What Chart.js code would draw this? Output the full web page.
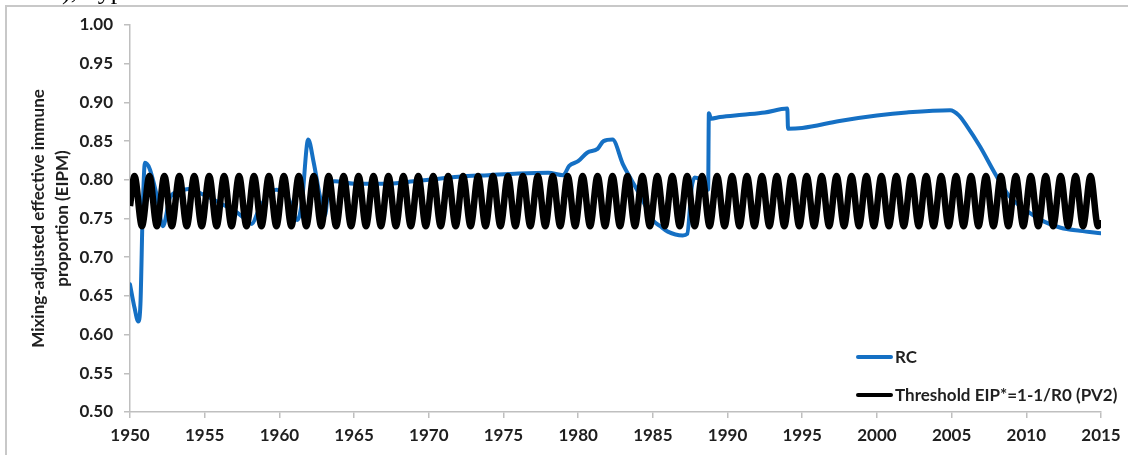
<!DOCTYPE html>
<html>
<head>
<meta charset="utf-8">
<script src="https://cdn.jsdelivr.net/npm/chart.js@4.4.1/dist/chart.umd.min.js"></script>
<style>
  html, body { margin: 0; padding: 0; background: #ffffff; }
  #wrap { width: 1128px; height: 455px; position: relative; }
</style>
</head>
<body>
<div id="wrap"><canvas id="c" width="1128" height="455"></canvas></div>
<script>
// ---- data ----
const xTickStep = 5;
const yTickStep = 0.05;
const xRange = [1950, 2015];
const yRange = [0.5, 1.0];
const seriesNames = ['RC', 'Threshold EIP*=1-1/R0 (PV2)'];
const yTitleLines = ['Mixing-adjusted effective immune', 'proportion (EIPM)'];
const clippedCaption = '), Typ';

const rcYears = [
  1950.0, 1950.3, 1950.55, 1950.7, 1950.85, 1951.0, 1951.3, 1951.8, 1952.2, 1952.7,
  1953.3, 1953.9, 1955.0, 1956.0, 1957.0, 1957.8, 1958.15, 1958.6, 1959.2, 1959.8,
  1960.6, 1961.2, 1961.5, 1961.93, 1962.3, 1962.7, 1963.05, 1963.3, 1963.7, 1965.0,
  1967.0, 1969.0, 1970.0, 1972.0, 1974.0, 1976.0, 1978.0, 1979.0, 1979.4, 1980.0,
  1980.6, 1981.3, 1981.7, 1982.3, 1983.0, 1983.5, 1984.2, 1985.0, 1985.5, 1986.0,
  1987.0, 1987.3, 1987.6, 1987.8, 1988.2, 1988.7, 1988.75, 1988.9, 1989.5, 1991.0,
  1992.5, 1994.0, 1994.05, 1995.0, 1997.5, 2000.0, 2002.0, 2004.9, 2005.5, 2006.0,
  2006.9, 2008.0, 2008.9, 2010.1, 2011.2, 2012.3, 2013.6, 2015.0
];
const rcValues = [
  0.665, 0.635, 0.617, 0.640, 0.760, 0.822, 0.815, 0.779, 0.740, 0.778,
  0.785, 0.788, 0.780, 0.770, 0.760, 0.748, 0.743, 0.760, 0.780, 0.787,
  0.776, 0.748, 0.770, 0.852, 0.822, 0.780, 0.754, 0.790, 0.798, 0.795,
  0.795, 0.798, 0.800, 0.804, 0.806, 0.808, 0.809, 0.806, 0.818, 0.824,
  0.835, 0.840, 0.850, 0.852, 0.820, 0.802, 0.778, 0.748, 0.740, 0.733,
  0.728, 0.730, 0.790, 0.803, 0.800, 0.787, 0.886, 0.879, 0.881, 0.884,
  0.887, 0.892, 0.866, 0.867, 0.876, 0.883, 0.887, 0.890, 0.883, 0.870,
  0.843, 0.805, 0.778, 0.759, 0.746, 0.738, 0.734, 0.731
];

const thresholdYears = [
  1950.0,
  1950.3,1950.8,1951.3,1951.8,1952.3,1952.8,1953.3,1953.8,1954.3,1954.8,
  1955.3,1955.8,1956.3,1956.8,1957.3,1957.8,1958.3,1958.8,1959.3,1959.8,
  1960.3,1960.8,1961.3,1961.8,1962.3,1962.8,1963.3,1963.8,1964.3,1964.8,
  1965.3,1965.8,1966.3,1966.8,1967.3,1967.8,1968.3,1968.8,1969.3,1969.8,
  1970.3,1970.8,1971.3,1971.8,1972.3,1972.8,1973.3,1973.8,1974.3,1974.8,
  1975.3,1975.8,1976.3,1976.8,1977.3,1977.8,1978.3,1978.8,1979.3,1979.8,
  1980.3,1980.8,1981.3,1981.8,1982.3,1982.8,1983.3,1983.8,1984.3,1984.8,
  1985.3,1985.8,1986.3,1986.8,1987.3,1987.8,1988.3,1988.8,1989.3,1989.8,
  1990.3,1990.8,1991.3,1991.8,1992.3,1992.8,1993.3,1993.8,1994.3,1994.8,
  1995.3,1995.8,1996.3,1996.8,1997.3,1997.8,1998.3,1998.8,1999.3,1999.8,
  2000.3,2000.8,2001.3,2001.8,2002.3,2002.8,2003.3,2003.8,2004.3,2004.8,
  2005.3,2005.8,2006.3,2006.8,2007.3,2007.8,2008.3,2008.8,2009.3,2009.8,
  2010.3,2010.8,2011.3,2011.8,2012.3,2012.8,2013.3,2013.8,2014.3,2014.8,
  2015.0
];
const thresholdValues = [
  0.766,
  0.805,0.740,0.805,0.740,0.805,0.740,0.805,0.740,0.805,0.740,
  0.805,0.740,0.805,0.740,0.805,0.740,0.805,0.740,0.805,0.740,
  0.805,0.740,0.805,0.740,0.805,0.740,0.805,0.740,0.805,0.740,
  0.805,0.740,0.805,0.740,0.805,0.740,0.805,0.740,0.805,0.740,
  0.805,0.740,0.805,0.740,0.805,0.740,0.805,0.740,0.805,0.740,
  0.805,0.740,0.805,0.740,0.805,0.740,0.805,0.740,0.805,0.740,
  0.805,0.740,0.805,0.740,0.805,0.740,0.805,0.740,0.805,0.740,
  0.805,0.740,0.805,0.740,0.805,0.740,0.805,0.740,0.805,0.740,
  0.805,0.740,0.805,0.740,0.805,0.740,0.805,0.740,0.805,0.740,
  0.805,0.740,0.805,0.740,0.805,0.740,0.805,0.740,0.805,0.740,
  0.805,0.740,0.805,0.740,0.805,0.740,0.805,0.740,0.805,0.740,
  0.805,0.740,0.805,0.740,0.805,0.740,0.805,0.740,0.805,0.740,
  0.805,0.740,0.805,0.740,0.805,0.740,0.805,0.740,0.805,0.740,
  0.748
];

// ---- build chart ----
const toPoints = (xs, ys) => xs.map((x, i) => ({ x: x, y: ys[i] }));
const FONT = 'Lato, "Open Sans", sans-serif';
const TEXT = '#1f1f1f';
const AXIS = '#bfbfbf';

const framePlugin = {
  id: 'frame',
  beforeDraw(chart) {
    const ctx = chart.ctx;
    ctx.save();
    ctx.strokeStyle = '#c8c8c8';
    ctx.lineWidth = 2;
    ctx.beginPath();
    ctx.moveTo(6, 460);
    ctx.lineTo(6, 6);
    ctx.lineTo(1130, 6);
    ctx.stroke();
    ctx.fillStyle = '#000';
    ctx.font = '26px "Liberation Serif", serif';
    ctx.textBaseline = 'alphabetic';
    ctx.fillText(clippedCaption, 62, -1);
    ctx.restore();
  }
};

const legendPlugin = {
  id: 'insideLegend',
  afterDraw(chart) {
    const ctx = chart.ctx;
    const x0 = 858, x1 = 891, tx = 895;
    const ys = [357, 395];
    ctx.save();
    ctx.font = '700 17px ' + FONT;
    ctx.textBaseline = 'middle';
    ctx.fillStyle = TEXT;
    ctx.lineCap = 'round';
    chart.data.datasets.forEach((ds, i) => {
      ctx.strokeStyle = ds.borderColor;
      ctx.lineWidth = 4;
      ctx.beginPath();
      ctx.moveTo(x0, ys[i]);
      ctx.lineTo(x1, ys[i]);
      ctx.stroke();
      ctx.fillText(ds.label, tx, ys[i] + 1);
    });
    ctx.restore();
  }
};

new Chart(document.getElementById('c'), {
  type: 'line',
  data: {
    datasets: [
      {
        label: seriesNames[0],
        data: toPoints(rcYears, rcValues),
        borderColor: '#1570c4',
        borderWidth: 4,
        pointRadius: 0,
        cubicInterpolationMode: 'monotone',
        borderJoinStyle: 'round',
        borderCapStyle: 'round',
        order: 1
      },
      {
        label: seriesNames[1],
        data: toPoints(thresholdYears, thresholdValues),
        borderColor: '#000000',
        borderWidth: 6.5,
        pointRadius: 0,
        cubicInterpolationMode: 'monotone',
        borderJoinStyle: 'round',
        order: 0
      }
    ]
  },
  options: {
    responsive: false,
    animation: false,
    events: [],
    layout: { padding: { top: 25, right: 27, left: 0, bottom: 0 } },
    plugins: { legend: { display: false }, tooltip: { enabled: false } },
    scales: {
      x: {
        type: 'linear',
        min: xRange[0],
        max: xRange[1],
        afterFit(s) { s.height = 43; },
        border: { color: AXIS, width: 1.5 },
        grid: { drawOnChartArea: false, drawTicks: true, tickLength: 6, color: AXIS, lineWidth: 1.5 },
        ticks: {
          stepSize: xTickStep,
          padding: 7,
          color: TEXT,
          font: { family: FONT, size: 17, weight: 700 },
          maxRotation: 0,
          callback: v => String(v)
        }
      },
      y: {
        type: 'linear',
        min: yRange[0],
        max: yRange[1],
        afterFit(s) { s.width = 130; },
        border: { color: AXIS, width: 1.5 },
        grid: { drawOnChartArea: false, drawTicks: true, tickLength: 6, color: AXIS, lineWidth: 1.5 },
        ticks: {
          stepSize: yTickStep,
          padding: 11,
          color: TEXT,
          font: { family: FONT, size: 17, weight: 700 },
          callback: v => Number(v).toFixed(2)
        },
        title: {
          display: true,
          text: yTitleLines,
          color: TEXT,
          font: { family: FONT, size: 17, weight: 700, lineHeight: 1.41 },
          padding: { top: 27, bottom: 0 }
        }
      }
    }
  },
  plugins: [framePlugin, legendPlugin]
});
</script>
</body>
</html>
